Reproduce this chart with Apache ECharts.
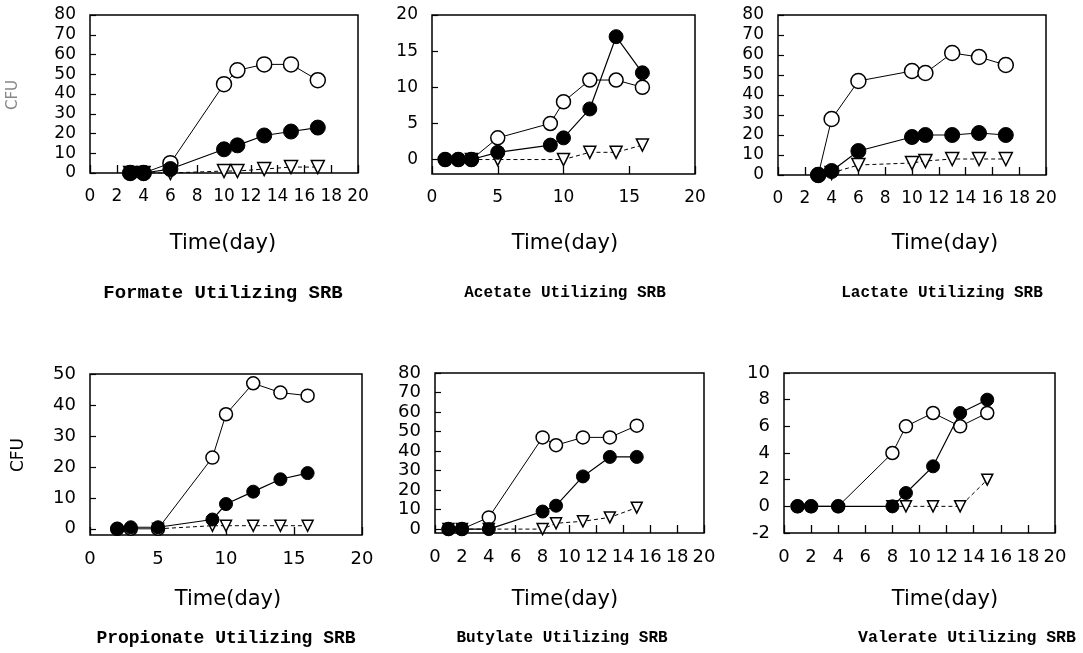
<!DOCTYPE html>
<html>
<head>
<meta charset="utf-8">
<script src="https://cdn.jsdelivr.net/npm/echarts@6/dist/echarts.min.js"></script>
<style>html,body{margin:0;padding:0;background:#fff}#c{width:1083px;height:653px}</style>
</head>
<body>
<div id="c"></div>
<script>
// ---- data: [day, CFU] ----
const panelTitles = ['Formate Utilizing SRB','Acetate Utilizing SRB','Lactate Utilizing SRB','Propionate Utilizing SRB','Butylate Utilizing SRB','Valerate Utilizing SRB'];
const xAxisName = 'Time(day)';
const yAxisName = 'CFU';

const formateOpen   = [[3,0],[4,0],[6,5],[10,45],[11,52],[13,55],[15,55],[17,47]];
const formateFilled = [[3,0],[4,0],[6,2],[10,12],[11,14],[13,19],[15,21],[17,23]];
const formateTri    = [[3,0],[4,0],[6,0],[10,1],[11,1],[13,2],[15,3],[17,3]];

const acetateOpen   = [[1,0],[2,0],[3,0],[5,3],[9,5],[10,8],[12,11],[14,11],[16,10]];
const acetateFilled = [[1,0],[2,0],[3,0],[5,1],[9,2],[10,3],[12,7],[14,17],[16,12]];
const acetateTri    = [[3,0],[5,0],[10,0],[12,1],[14,1],[16,2]];

const lactateOpen   = [[3,0],[4,28],[6,47],[10,52],[11,51],[13,61],[15,59],[17,55]];
const lactateFilled = [[3,0],[4,2],[6,12],[10,19],[11,20],[13,20],[15,21],[17,20]];
const lactateTri    = [[4,1],[6,5],[10,6],[11,7],[13,8],[15,8],[17,8]];

const propionateOpen   = [[2,0],[3,0],[5,0],[9,23],[10,37],[12,47],[14,44],[16,43]];
const propionateFilled = [[2,0],[3,0.5],[5,0.5],[9,3],[10,8],[12,12],[14,16],[16,18]];
const propionateTri    = [[5,0],[9,1],[10,1],[12,1],[14,1],[16,1]];

const butylateOpen   = [[1,0],[2,0],[4,6],[8,47],[9,43],[11,47],[13,47],[15,53]];
const butylateFilled = [[1,0],[2,0],[4,0],[8,9],[9,12],[11,27],[13,37],[15,37]];
const butylateTri    = [[1,0],[2,0],[4,0],[8,0],[9,3],[11,4],[13,6],[15,11]];

const valerateOpen   = [[1,0],[2,0],[4,0],[8,4],[9,6],[11,7],[13,6],[15,7]];
const valerateFilled = [[1,0],[2,0],[4,0],[8,0],[9,1],[11,3],[13,7],[15,8]];
const valerateTri    = [[8,0],[9,0],[11,0],[13,0],[15,2]];

const yTicksAcetate    = [0,5,10,15,20];
const yTicksPropionate = [0,10,20,30,40,50];
const yTicksButylate   = [0,10,20,30,40,50,60,70,80];

// ---- layout ----
const panels = [
  {grid:{left:90, top:15, width:268, height:158}, x:{min:0,max:20,interval:2}, y:{min:0,max:80,interval:10}, data:[formateTri,formateOpen,formateFilled], fs:17, sym:15, tx:223, ty:244, hx:223, hy:293, hfs:19},
  {grid:{left:432,top:15, width:263, height:159}, x:{min:0,max:20,interval:5}, y:{min:-2,max:20,custom:yTicksAcetate}, data:[acetateTri,acetateOpen,acetateFilled], fs:17, sym:14, tx:565, ty:244, hx:565, hy:293, hfs:16},
  {grid:{left:778,top:15, width:268, height:160}, x:{min:0,max:20,interval:2}, y:{min:0,max:80,interval:10}, data:[lactateTri,lactateOpen,lactateFilled], fs:17, sym:15, tx:945, ty:244, hx:942, hy:293, hfs:16},
  {grid:{left:90, top:374,width:272, height:161}, x:{min:0,max:20,interval:5}, y:{min:-2,max:50,custom:yTicksPropionate}, data:[propionateTri,propionateOpen,propionateFilled], fs:18, sym:13, tx:228, ty:600, hx:226, hy:638, hfs:18},
  {grid:{left:435,top:373,width:269, height:160}, x:{min:0,max:20,interval:2}, y:{min:-2,max:80,custom:yTicksButylate}, data:[butylateTri,butylateOpen,butylateFilled], fs:18, sym:13, tx:565, ty:600, hx:562, hy:638, hfs:16},
  {grid:{left:784,top:373,width:271, height:160}, x:{min:0,max:20,interval:2}, y:{min:-2,max:10,interval:2}, data:[valerateTri,valerateOpen,valerateFilled], fs:18, sym:13, tx:945, ty:600, hx:967, hy:638, hfs:16.5}
];

const labelFont = 'DejaVu Sans';
const titleFont = 'Liberation Mono';
const grids = [], xAxes = [], yAxes = [], series = [], graphics = [];

panels.forEach((p, i) => {
  grids.push(Object.assign({show:true, borderColor:'#000', borderWidth:1.5, backgroundColor:'transparent'}, p.grid));
  xAxes.push({
    type:'value', gridIndex:i, min:p.x.min, max:p.x.max, interval:p.x.interval,
    axisLine:{show:false, onZero:false}, splitLine:{show:false},
    axisTick:{show:true, inside:true, length:8, lineStyle:{color:'#000', width:1.3}},
    axisLabel:{color:'#000', fontFamily:labelFont, fontSize:p.fs, margin:15, interval:0, hideOverlap:false, showMinLabel:true, showMaxLabel:true}
  });
  const ya = {
    type:'value', gridIndex:i, min:p.y.min, max:p.y.max,
    axisLine:{show:false, onZero:false}, splitLine:{show:false},
    axisTick:{show:true, inside:true, length:6, lineStyle:{color:'#000', width:1.2}},
    axisLabel:{color:'#000', fontFamily:labelFont, fontSize:p.fs, margin:14, showMinLabel:true, showMaxLabel:true, hideOverlap:false}
  };
  if (p.y.custom) {
    ya.axisLabel.customValues = p.y.custom;
    ya.axisTick.customValues = p.y.custom;
  } else {
    ya.interval = p.y.interval;
  }
  yAxes.push(ya);
  const [tri, open, filled] = p.data;
  series.push({
    type:'line', xAxisIndex:i, yAxisIndex:i, data:tri, symbol:'triangle', symbolRotate:180, symbolSize:p.sym-2,
    lineStyle:{color:'#000', width:1, type:[4,3]}, itemStyle:{color:'#fff', borderColor:'#000', borderWidth:1.5},
    z:2, animation:false
  });
  series.push({
    type:'line', xAxisIndex:i, yAxisIndex:i, data:open, symbol:'circle', symbolSize:p.sym,
    lineStyle:{color:'#000', width:1}, itemStyle:{color:'#fff', borderColor:'#000', borderWidth:1.5},
    z:3, animation:false
  });
  series.push({
    type:'line', xAxisIndex:i, yAxisIndex:i, data:filled, symbol:'circle', symbolSize:p.sym,
    lineStyle:{color:'#000', width:1.2}, itemStyle:{color:'#000', borderColor:'#000', borderWidth:1},
    z:4, animation:false
  });
  graphics.push({type:'text', x:p.tx, y:p.ty, style:{text:xAxisName, fill:'#000', font:`21px "${labelFont}"`, textAlign:'center', textVerticalAlign:'middle'}});
  graphics.push({type:'text', x:p.hx, y:p.hy, style:{text:panelTitles[i], fill:'#000', font:`bold ${p.hfs}px "${titleFont}"`, textAlign:'center', textVerticalAlign:'middle'}});
});

graphics.push({type:'text', x:13, y:95, rotation:Math.PI/2, style:{text:yAxisName, fill:'#888', font:`15px "${labelFont}"`, textAlign:'center', textVerticalAlign:'middle'}});
graphics.push({type:'text', x:19, y:455, rotation:Math.PI/2, style:{text:yAxisName, fill:'#000', font:`17px "${labelFont}"`, textAlign:'center', textVerticalAlign:'middle'}});

const chart = echarts.init(document.getElementById('c'), null, {renderer:'canvas'});
chart.setOption({animation:false, grid:grids, xAxis:xAxes, yAxis:yAxes, series:series, graphic:graphics});
</script>
</body>
</html>
